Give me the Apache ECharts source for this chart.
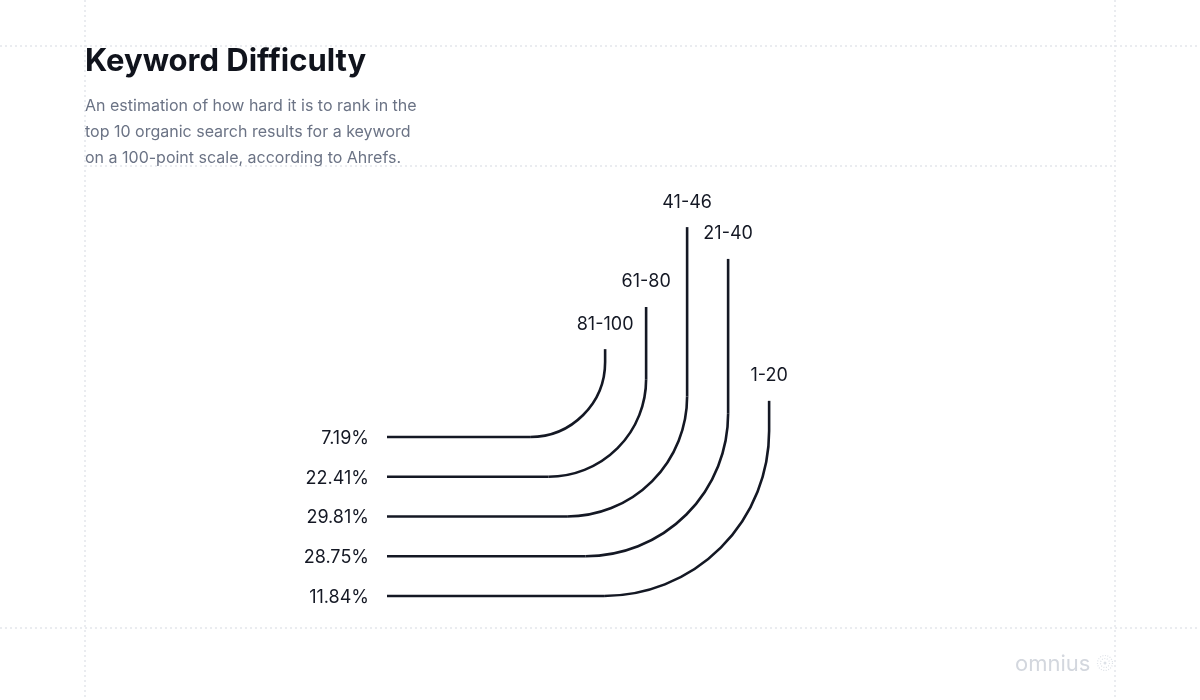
<!DOCTYPE html>
<html>
<head>
<meta charset="utf-8">
<script src="https://cdn.jsdelivr.net/npm/echarts@6/dist/echarts.min.js"></script>
<style>
html,body{margin:0;padding:0;background:#ffffff;}
#chart{width:1200px;height:700px;}
</style>
</head>
<body>
<div id="chart"></div>
<script>
// ---- data ----
const categories = ['81-100', '61-80', '41-46', '21-40', '1-20'];
const shares = [7.19, 22.41, 29.81, 28.75, 11.84];
// how far up each line reaches (chart units)
const reach = [6.21, 7.27, 9.28, 8.48, 4.91];

const titleText = 'Keyword Difficulty';
const subtitleText = 'An estimation of how hard it is to rank in the\ntop 10 organic search results for a keyword\non a 100-point scale, according to Ahrefs.';

// ---- layout constants ----
const COL_START = 5.32;   // x position of first vertical (x units)
const INK = '#141824';
const FONT = 'Inter, "Noto Sans", sans-serif';

const seriesData = categories.map((c, i) => [categories.length - 1 - i, COL_START + i, reach[i], i]);

const chart = echarts.init(document.getElementById('chart'), null, {renderer: 'canvas'});

function renderItem(params, api) {
  const row = api.value(0), col = api.value(1), top = api.value(2), idx = api.value(3);
  const start = api.coord([0, row]);
  const corner = api.coord([col, row]);
  const end = api.coord([col, top]);
  const r = 75 + 22.5 * idx;
  const lineStyle = {stroke: INK, lineWidth: 2.6, fill: null, lineCap: 'butt'};
  return {
    type: 'group',
    children: [
      {type: 'line', shape: {x1: start[0], y1: start[1], x2: corner[0] - r, y2: corner[1]}, style: lineStyle},
      {type: 'arc', shape: {cx: corner[0] - r, cy: corner[1] - r, r: r, startAngle: 0, endAngle: Math.PI / 2, clockwise: true}, style: lineStyle},
      {type: 'line', shape: {x1: corner[0], y1: corner[1] - r, x2: end[0], y2: end[1]}, style: lineStyle},
      {type: 'text', style: {text: shares[idx].toFixed(2) + '%', x: start[0] - 18, y: corner[1] + 1.5, align: 'right', verticalAlign: 'middle', fill: INK, font: '18px ' + FONT}},
      {type: 'text', style: {text: categories[idx], x: end[0], y: end[1] - 25, align: 'center', verticalAlign: 'middle', fill: INK, font: '18px ' + FONT}}
    ]
  };
}

const dot = {stroke: '#e3e6eb', lineWidth: 1.5, lineDash: [2, 3]};

const option = {
  backgroundColor: '#ffffff',
  animation: false,
  title: [
    {text: titleText, left: 85, top: 46, padding: 0, textStyle: {fontFamily: FONT, fontWeight: 700, fontSize: 31, color: '#10131c'}},
    {text: subtitleText, left: 85, top: 93, padding: 0, textStyle: {fontFamily: FONT, fontWeight: 400, fontSize: 16, lineHeight: 26, color: '#6b7385'}}
  ],
  grid: {left: 387, right: 403, top: 198.5, bottom: 104},
  xAxis: {type: 'value', min: 0, max: 10, show: false},
  yAxis: {type: 'value', min: 0, max: 10, show: false},
  graphic: [
    {type: 'line', z: -1, shape: {x1: 0, y1: 46, x2: 1200, y2: 46}, style: dot},
    {type: 'line', z: -1, shape: {x1: 85, y1: 166, x2: 1115, y2: 166}, style: dot},
    {type: 'line', z: -1, shape: {x1: 0, y1: 628, x2: 1200, y2: 628}, style: dot},
    {type: 'line', z: -1, shape: {x1: 85, y1: 0, x2: 85, y2: 700}, style: dot},
    {type: 'line', z: -1, shape: {x1: 1115, y1: 0, x2: 1115, y2: 700}, style: dot},
    {type: 'text', style: {text: 'omnius', x: 1015, y: 664, verticalAlign: 'middle', fill: '#d3d7de', font: '400 22px ' + FONT}},
    {type: 'circle', shape: {cx: 1105, cy: 663, r: 7.5}, style: {stroke: '#dde1e7', lineWidth: 1.2, lineDash: [1, 1.5], fill: null}},
    {type: 'circle', shape: {cx: 1105, cy: 663, r: 4.5}, style: {stroke: '#dde1e7', lineWidth: 1.2, lineDash: [1, 1.5], fill: null}},
    {type: 'circle', shape: {cx: 1105, cy: 663, r: 1.5}, style: {fill: '#dde1e7'}}
  ],
  series: [{
    type: 'custom',
    renderItem: renderItem,
    data: seriesData,
    clip: false,
    silent: true
  }]
};
chart.setOption(option);
</script>
</body>
</html>
